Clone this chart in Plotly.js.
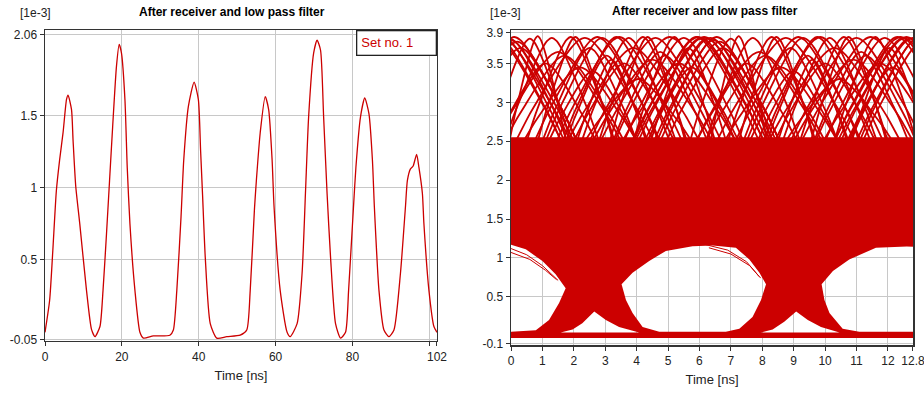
<!DOCTYPE html>
<html><head><meta charset="utf-8">
<script src="https://cdn.plot.ly/plotly-3.0.1.min.js"></script>
<style>html,body{margin:0;padding:0;background:#fff}#chart{width:924px;height:394px}</style>
</head><body><div id="chart"></div>
<script>
// ---------- Left panel: single received waveform (values in 1e-3) ----------
const waveTime = [0,1.2,2.0,2.96,3.8,4.7,5.6,6.0,6.9,7.3,8.0,9.05,10.8,12.1,13.0,14.3,15.1,16.0,16.8,17.6,18.6,19.3,19.9,20.8,21.4,22.1,23.4,24.7,25.6,28.2,32.5,33.4,34.3,35.4,36.1,37.3,38.8,39.9,40.5,41.0,41.7,43.0,44.7,47.3,50.8,52.5,53.4,54.5,55.0,56.0,57.3,58.2,59.1,59.6,61.2,63.0,63.8,65.6,66.9,67.8,68.6,69.9,70.8,71.7,72.5,73.4,74.3,75.6,76.9,78.2,79.0,80.3,80.9,82.1,83.2,84.3,85.2,85.7,86.9,88.2,89.5,90.8,92.5,93.8,94.3,95.1,95.8,96.7,97.3,98.2,98.6,99.9,101.2,102];
const waveValue = [0.0,0.22,0.55,0.98,1.19,1.38,1.61,1.64,1.54,1.33,1.01,0.75,0.29,0.02,-0.03,0.04,0.29,0.68,1.05,1.42,1.84,1.99,1.93,1.61,1.14,0.75,0.29,0.0,-0.04,-0.025,-0.02,0.016,0.29,0.80,1.19,1.56,1.73,1.61,1.25,0.95,0.52,0.06,-0.04,-0.03,-0.02,0.016,0.29,0.85,1.05,1.38,1.63,1.54,1.19,0.87,0.29,0.0,-0.03,0.06,0.41,0.98,1.49,1.93,2.02,1.95,1.49,0.96,0.52,0.06,-0.04,0.0,0.29,0.88,1.14,1.49,1.62,1.51,1.19,0.87,0.29,0.016,-0.03,0.016,0.41,0.87,1.05,1.13,1.15,1.23,1.14,0.96,0.75,0.29,0.04,0.0];
const waveXTickVals = [0,20,40,60,80,102];
const waveXTickText = ['0','20','40','60','80','102'];
const waveYTickVals = [-0.05,0.5,1,1.5,2.06];
const waveYTickText = ['-0.05','0.5','1','1.5','2.06'];

// ---------- Right panel: eye diagram ----------
const eyeXTickVals = [0,1,2,3,4,5,6,7,8,9,10,11,12,12.8];
const eyeXTickText = ['0','1','2','3','4','5','6','7','8','9','10','11','12','12.8'];
const eyeYTickVals = [-0.1,0.5,1,1.5,2,2.5,3,3.5,3.9];
const eyeYTickText = ['-0.1','0.5','1','1.5','2','2.5','3','3.5','3.9'];

// dense body of overlapping traces
const eyeBodyTime  = [0,12.8,12.8,0];
const eyeBodyValue = [-0.03,-0.03,2.55,2.55];
// open eyes (white)
const eyeLeftTime   = [0,0.47,1.0,1.42,1.74,1.53,1.21,0.79,0];
const eyeLeftValue  = [1.17,1.11,0.96,0.79,0.61,0.42,0.20,0.07,0.05];
const eyeMidTime    = [3.52,3.87,4.40,4.93,5.78,6.42,7.16,7.59,7.91,8.12,7.96,7.69,7.27,6.84,4.72,4.19,3.87,3.66];
const eyeMidValue   = [0.66,0.81,0.96,1.09,1.15,1.16,1.13,0.98,0.81,0.66,0.46,0.24,0.09,0.05,0.05,0.11,0.29,0.46];
const eyeRightTime  = [9.89,10.25,10.77,11.62,12.8,12.8,11.09,10.56,10.14,9.98];
const eyeRightValue = [0.66,0.83,0.98,1.13,1.15,0.05,0.05,0.09,0.29,0.46];
const eyeLowATime   = [1.58,1.96,2.27,2.65,3.02,3.44,4.08];
const eyeLowAValue  = [0.04,0.08,0.16,0.31,0.20,0.11,0.04];
const eyeLowBTime   = [7.96,8.33,8.70,9.08,9.45,9.87,10.46];
const eyeLowBValue  = [0.04,0.08,0.18,0.31,0.20,0.11,0.04];

// upper "one" level arcs: apex time, half width, apex level (estimated)
const arcApex = [-0.5,-0.4,-0.3,-0.2,-0.1,0.0,0.1,0.2,0.3,0.6,0.85,1.1,1.3,1.5,1.7,1.9,2.05,2.2,2.35,2.5,2.6,2.75,2.9,3.05,3.2,3.35,3.45,3.6,3.75,3.9,4.05,4.2,4.35,4.5,4.6,4.75,4.9,5.05,5.2,5.35,5.5,5.65,5.75,5.9,
                 5.95,6.05,6.15,6.25,6.35,6.45,6.55,6.65,6.75,7.0,7.25,7.5,7.7,7.9,8.1,8.3,8.45,8.6,8.75,8.9,9.0,9.15,9.3,9.45,9.6,9.75,9.85,10.0,10.15,10.3,10.45,10.6,10.75,10.9,11.0,11.15,11.3,11.45,11.6,11.75,11.9,12.05,12.15,12.3,12.4,12.5,12.6,12.7,12.8,12.9,13.0,13.1];
const arcHalfWidth = [2.1,2.0,2.2,1.9,2.1,1.8,2.0,1.9,1.8,1.3,0.9,1.6,1.5,2.0,1.9,1.4,1.2,1.8,2.2,1.5,1.4,2.0,1.8,1.3,1.1,1.7,2.0,1.6,1.5,2.1,1.7,1.4,1.2,1.9,2.1,1.5,1.6,2.2,1.3,1.8,1.9,1.2,1.4,2.0,
                      2.1,2.0,2.2,1.9,2.1,1.8,2.0,1.9,1.8,1.3,0.9,1.6,1.5,2.0,1.9,1.4,1.2,1.8,2.2,1.5,1.4,2.0,1.8,1.3,1.1,1.7,2.0,1.6,1.5,2.1,1.7,1.4,1.2,1.9,2.1,1.5,1.6,2.2,1.3,1.8,1.9,1.2,1.4,2.0,2.1,2.0,2.2,1.9,2.1,1.8,2.0,1.9];
const arcPeak = [3.84,3.83,3.84,3.82,3.83,3.80,3.84,3.78,3.70,3.82,3.85,3.50,3.83,3.65,3.60,3.84,3.84,3.45,3.83,3.70,3.40,3.84,3.83,3.60,3.55,3.84,3.84,3.50,3.83,3.70,3.30,3.84,3.84,3.55,3.83,3.65,3.60,3.84,3.84,3.50,3.83,3.70,3.45,3.84,
                 3.84,3.83,3.84,3.82,3.83,3.80,3.84,3.78,3.70,3.82,3.85,3.50,3.83,3.65,3.60,3.84,3.84,3.45,3.83,3.70,3.40,3.84,3.83,3.60,3.55,3.84,3.84,3.50,3.83,3.70,3.30,3.84,3.84,3.55,3.83,3.65,3.60,3.84,3.84,3.50,3.83,3.70,3.45,3.84,3.84,3.83,3.84,3.82,3.83,3.80,3.84,3.78];
const arcProfileU = [0,0.1,0.2,0.35,0.5,0.65,0.8,1.0];
const arcProfileP = [1,0.97,0.9,0.76,0.6,0.43,0.26,0];
const arcFloor = 2.5;

// thin streaks inside the eyes
const streakTime  = [0.0,0.5,1.0,1.5,null,0.0,0.6,1.1,1.45,null,6.2,6.9,7.5,7.9,null,6.3,7.0,7.6,7.95];
const streakValue = [1.12,1.04,0.90,0.71,null,1.07,0.98,0.84,0.72,null,1.17,1.10,0.95,0.76,null,1.13,1.05,0.90,0.74];

const RED = '#cc0000';
const FONT = 'Arial, "Liberation Sans", sans-serif';

// build eye body with holes (holes wound opposite to body)
function join(listX, listY) {
  const x = [], y = [];
  listX.forEach((arr, i) => {
    if (i > 0) { x.push(null); y.push(null); }
    arr.forEach((v, j) => { x.push(v); y.push(listY[i][j]); });
  });
  return {x, y};
}
const body = join([eyeBodyTime, eyeLeftTime, eyeMidTime, eyeRightTime, eyeLowATime, eyeLowBTime],
                  [eyeBodyValue, eyeLeftValue, eyeMidValue, eyeRightValue, eyeLowAValue, eyeLowBValue]);

const arcX = [], arcY = [];
arcApex.forEach((c, i) => {
  const w = arcHalfWidth[i], h = arcPeak[i];
  for (let k = arcProfileU.length - 1; k >= 0; k--) {
    arcX.push(c - arcProfileU[k] * w); arcY.push(arcFloor + (h - arcFloor) * arcProfileP[k]);
  }
  for (let k = 1; k < arcProfileU.length; k++) {
    arcX.push(c + arcProfileU[k] * w); arcY.push(arcFloor + (h - arcFloor) * arcProfileP[k]);
  }
  arcX.push(null); arcY.push(null);
});

const traces = [
  {x: waveTime, y: waveValue, xaxis: 'x', yaxis: 'y', type: 'scatter', mode: 'lines',
   line: {color: RED, width: 1.3, shape: 'spline', smoothing: 0.6}, hoverinfo: 'skip', name: 'Set no. 1'},
  {x: body.x, y: body.y, xaxis: 'x2', yaxis: 'y2', type: 'scatter', mode: 'lines', fill: 'toself',
   fillcolor: RED, line: {width: 0, color: RED}, hoverinfo: 'skip'},
  {x: arcX, y: arcY, xaxis: 'x2', yaxis: 'y2', type: 'scatter', mode: 'lines',
   line: {color: RED, width: 1.8, shape: 'spline', smoothing: 0.6}, hoverinfo: 'skip', connectgaps: false},
  {x: streakTime, y: streakValue, xaxis: 'x2', yaxis: 'y2', type: 'scatter', mode: 'lines',
   line: {color: RED, width: 1}, hoverinfo: 'skip', connectgaps: false}
];

const axisCommon = {
  showline: true, mirror: true, linecolor: '#333', linewidth: 1.5,
  ticks: 'outside', ticklen: 4, tickcolor: '#333', tickwidth: 1,
  showgrid: true, gridcolor: '#c8c8c8', gridwidth: 1, zeroline: false,
  tickfont: {family: FONT, size: 12, color: '#222'}, tickmode: 'array', fixedrange: true,
  ticklabeloverflow: 'allow'
};

const layout = {
  width: 924, height: 394, autosize: false,
  paper_bgcolor: '#fff', plot_bgcolor: '#fff', showlegend: false,
  margin: {l: 45, r: 11, t: 30, b: 49},
  font: {family: FONT, size: 12, color: '#222'},
  xaxis: Object.assign({}, axisCommon, {
    domain: [0, 0.4516], range: [0, 102], anchor: 'y',
    tickvals: waveXTickVals, ticktext: waveXTickText,
    minor: {tickmode: 'array', tickvals: [100], showgrid: true, gridcolor: '#c8c8c8', ticks: 'outside', ticklen: 4, tickcolor: '#333'},
    title: {text: 'Time [ns]', font: {family: FONT, size: 13, color: '#222'}, standoff: 8}
  }),
  yaxis: Object.assign({}, axisCommon, {
    domain: [0.0127, 1], range: [-0.06, 2.09], anchor: 'x',
    tickvals: waveYTickVals, ticktext: waveYTickText
  }),
  xaxis2: Object.assign({}, axisCommon, {
    domain: [0.5369, 1], range: [0, 12.8], anchor: 'y2',
    tickvals: eyeXTickVals, ticktext: eyeXTickText,
    title: {text: 'Time [ns]', font: {family: FONT, size: 13, color: '#222'}, standoff: 8}
  }),
  yaxis2: Object.assign({}, axisCommon, {
    domain: [0, 1], range: [-0.12, 3.93], anchor: 'x2',
    tickvals: eyeYTickVals, ticktext: eyeYTickText
  }),
  annotations: [
    {text: '<b>After receiver and low pass filter</b>', xref: 'paper', yref: 'paper', x: 0.2154, y: 1.057,
     xanchor: 'center', yanchor: 'middle', showarrow: false, font: {family: FONT, size: 12, color: '#000'}},
    {text: '<b>After receiver and low pass filter</b>', xref: 'paper', yref: 'paper', x: 0.7604, y: 1.060,
     xanchor: 'center', yanchor: 'middle', showarrow: false, font: {family: FONT, size: 12, color: '#000'}},
    {text: '[1e-3]', xref: 'paper', yref: 'paper', x: -0.0110, y: 1.054,
     xanchor: 'center', yanchor: 'middle', showarrow: false, font: {family: FONT, size: 12, color: '#222'}},
    {text: '[1e-3]', xref: 'paper', yref: 'paper', x: 0.5311, y: 1.054,
     xanchor: 'center', yanchor: 'middle', showarrow: false, font: {family: FONT, size: 12, color: '#222'}},
    {text: 'Set no. 1', xref: 'x domain', yref: 'y domain', x: 1, y: 1, xanchor: 'right', yanchor: 'top',
     showarrow: false, align: 'left', width: 70, borderpad: 4, bordercolor: '#222', borderwidth: 1.3, bgcolor: '#fff',
     font: {family: FONT, size: 13, color: RED}}
  ]
};

Plotly.newPlot('chart', traces, layout, {staticPlot: true, displayModeBar: false});
</script>
</body></html>
